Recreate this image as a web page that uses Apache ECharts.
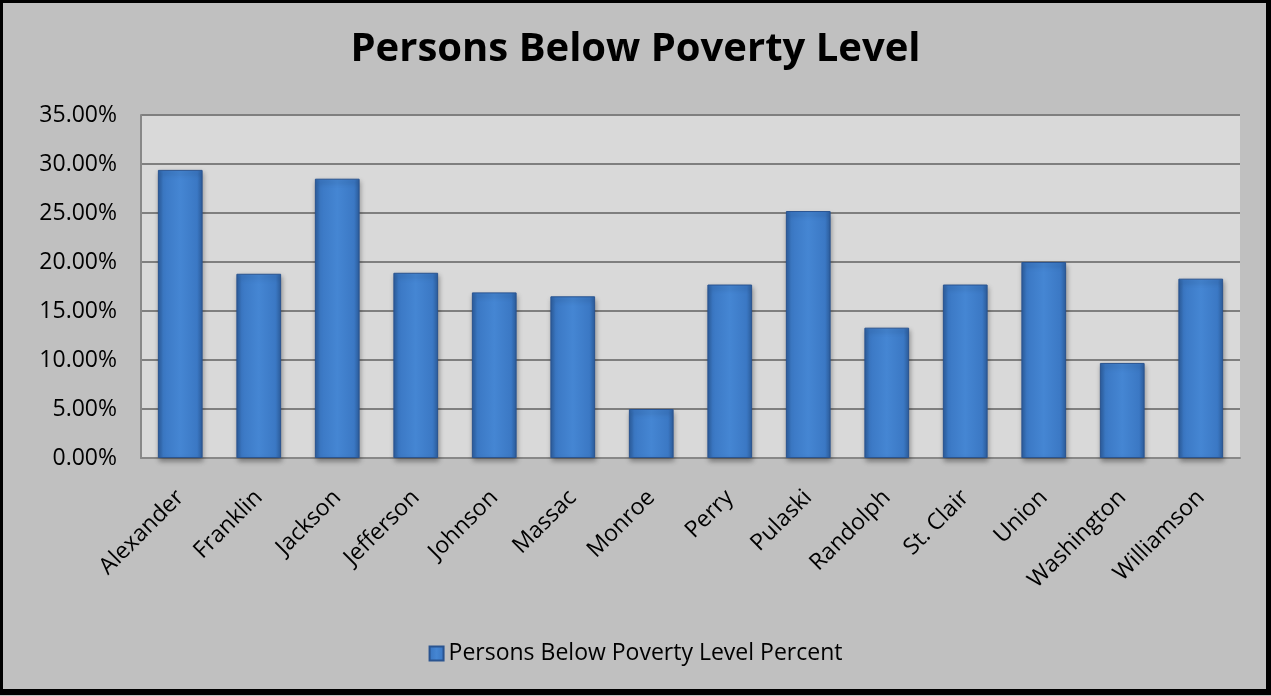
<!DOCTYPE html>
<html>
<head>
<meta charset="utf-8">
<script src="https://cdn.jsdelivr.net/npm/echarts@6/dist/echarts.min.js"></script>
<style>
html,body{margin:0;padding:0;background:#fff;}
#wrap{position:relative;width:1271px;height:696px;}
#chart{position:absolute;left:0;top:0;width:1271px;height:696px;}
#frame{position:absolute;left:0;top:0;width:1263px;height:686px;border-left:3px solid #000;border-top:3px solid #000;border-right:5px solid #000;border-bottom:6px solid #000;pointer-events:none;}
</style>
</head>
<body>
<div id="wrap"><div id="chart"></div><div id="frame"></div></div>
<script>
const titleText = 'Persons Below Poverty Level';
const seriesName = 'Persons Below Poverty Level Percent';
const categories = ['Alexander','Franklin','Jackson','Jefferson','Johnson','Massac','Monroe','Perry','Pulaski','Randolph','St. Clair','Union','Washington','Williamson'];
const values = [0.294, 0.188, 0.285, 0.189, 0.169, 0.165, 0.050, 0.177, 0.252, 0.133, 0.177, 0.200, 0.097, 0.183];
const yMin = 0, yMax = 0.35, yStep = 0.05;

const font = 'Open Sans';
const chart = echarts.init(document.getElementById('chart'), null, {renderer:'canvas'});
const barFill = new echarts.graphic.LinearGradient(0,0,1,0,[
  {offset:0, color:'#2d5f9f'},
  {offset:0.12, color:'#3b78c4'},
  {offset:0.5, color:'#4586d3'},
  {offset:0.88, color:'#3b78c4'},
  {offset:1, color:'#2d5f9f'}
]);
chart.setOption({
  backgroundColor:'#c0c0c0',
  animation:false,
  title:{
    text:titleText, left:'center', top:25,
    textStyle:{fontFamily:font, fontWeight:'bold', fontSize:40, color:'#000'}
  },
  legend:{
    data:[seriesName], bottom:26, left:'center',
    icon:'rect', itemWidth:14, itemHeight:14, itemGap:6,
    textStyle:{fontFamily:font, fontSize:23, color:'#000'}
  },
  grid:{left:141, right:31, top:115, bottom:238, show:true, backgroundColor:'#d9d9d9', borderWidth:0},
  xAxis:{
    type:'category', data:categories,
    axisLine:{show:true, lineStyle:{color:'#888', width:2}},
    axisTick:{show:false},
    axisLabel:{rotate:45, interval:0, margin:36, fontFamily:font, fontSize:23, color:'#000'}
  },
  yAxis:{
    type:'value', min:yMin, max:yMax, interval:yStep,
    axisLine:{show:true, lineStyle:{color:'#888', width:2}},
    axisTick:{show:false},
    splitLine:{lineStyle:{color:'#7f7f7f', width:2}},
    axisLabel:{margin:24, fontFamily:font, fontSize:23, color:'#000',
      formatter:v=>(v*100).toFixed(2)+'%'}
  },
  series:[{
    name:seriesName, type:'bar', data:values, barWidth:'57%',
    itemStyle:{color:barFill, borderColor:'#2a5490', borderWidth:1,
      shadowColor:'rgba(0,0,0,0.35)', shadowBlur:5, shadowOffsetX:1, shadowOffsetY:3}
  }]
});
</script>
</body>
</html>
